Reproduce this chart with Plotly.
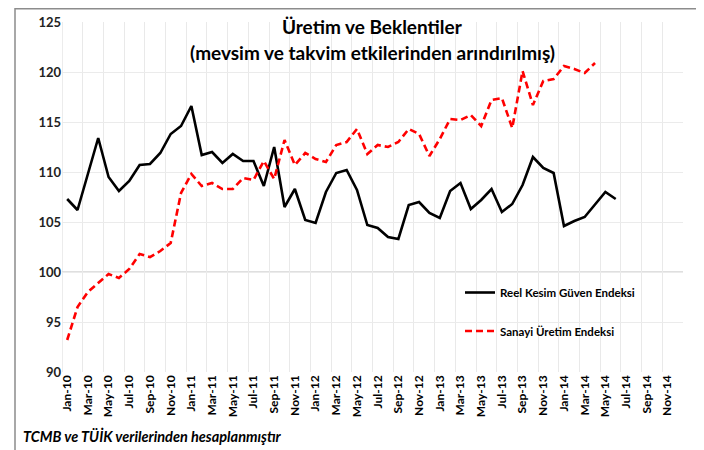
import plotly.graph_objects as go

months = [f"{m}-{y}" for y in ["10", "11", "12", "13", "14"]
          for m in ["Jan", "Feb", "Mar", "Apr", "May", "Jun", "Jul", "Aug", "Sep", "Oct", "Nov", "Dec"]]

reel_kesim = [107.3, 106.2, 109.8, 113.4, 109.5, 108.1, 109.1, 110.7, 110.8, 111.9, 113.8, 114.6,
              116.6, 111.7, 112.0, 110.9, 111.8, 111.1, 111.1, 108.6, 112.5, 106.5, 108.3, 105.2,
              104.9, 108.0, 109.9, 110.2, 108.2, 104.7, 104.4, 103.5, 103.3, 106.7, 107.0, 105.9,
              105.4, 108.1, 108.9, 106.3, 107.2, 108.3, 106.0, 106.8, 108.7, 111.5, 110.4, 109.9,
              104.6, 105.1, 105.5, 106.8, 108.0, 107.3]

sanayi_uretim = [93.2, 96.5, 98.0, 98.9, 99.8, 99.4, 100.3, 101.8, 101.5, 102.1, 102.9, 107.9,
                 109.8, 108.6, 108.9, 108.3, 108.3, 109.4, 109.2, 111.1, 109.3, 113.2, 110.7, 111.9,
                 111.3, 111.0, 112.7, 113.0, 114.3, 111.8, 112.7, 112.5, 113.0, 114.3, 113.8, 111.6,
                 113.3, 115.3, 115.2, 115.7, 114.6, 117.2, 117.4, 114.4, 120.1, 116.7, 119.1, 119.3,
                 120.6, 120.3, 119.9, 120.9]

y_ticks = [90, 95, 100, 105, 110, 115, 120, 125]
title_lines = ["Üretim ve Beklentiler", "(mevsim ve takvim etkilerinden arındırılmış)"]
source_note = "TCMB ve TÜİK verilerinden hesaplanmıştır"
series_names = ["Reel Kesim Güven Endeksi", "Sanayi Üretim Endeksi"]

FONT = "Lato"
idx = list(range(len(months)))

# page has an 8px body margin; layout is expressed in figure pixels
OFF = 8
W, H = 704, 450
PL, PR, PT, PB = 62 - OFF, 683 - OFF, 22 - OFF, 372 - OFF  # plot area in figure px
PW, PH = PR - PL, PB - PT


def px(xp):
    return (xp - OFF - PL) / PW


def py(yp):
    return (PB - (yp - OFF)) / PH


fig = go.Figure()
fig.add_trace(go.Scatter(
    x=idx[:len(reel_kesim)], y=reel_kesim, mode="lines", name=series_names[0],
    line=dict(color="#000000", width=2.6), legend="legend"))
fig.add_trace(go.Scatter(
    x=idx[:len(sanayi_uretim)], y=sanayi_uretim, mode="lines", name=series_names[1],
    line=dict(color="#ff0000", width=2.6, dash="7px,4px"), legend="legend2"))

fig.add_hline(y=100, line=dict(color="#bfbfbf", width=1.2), layer="below")
fig.add_vline(x=-0.5, line=dict(color="#d9d9d9", width=1), layer="below")

legend_font = dict(family=FONT, size=11.5, color="#000000", weight="bold")
fig.update_layout(
    width=W, height=H,
    margin=dict(l=PL, r=W - PR, t=PT, b=H - PB),
    paper_bgcolor="white", plot_bgcolor="white",
    font=dict(family=FONT, color="#000000"),
    showlegend=True,
    legend=dict(x=px(460), y=py(292.5), xanchor="left", yanchor="middle",
                bgcolor="rgba(0,0,0,0)", itemwidth=30, font=legend_font),
    legend2=dict(x=px(460), y=py(331), xanchor="left", yanchor="middle",
                 bgcolor="rgba(0,0,0,0)", itemwidth=30, font=legend_font),
    xaxis=dict(
        range=[-0.5, len(months) - 0.5],
        tickmode="array", tickvals=idx[::2], ticktext=months[::2],
        tickangle=-90, ticks="", showgrid=False, zeroline=False, showline=False,
        automargin=False,
        tickfont=dict(family=FONT, size=12, color="#000000", weight="bold"),
        minor=dict(tickmode="array", tickvals=[i - 0.5 for i in range(0, len(months) + 1, 2)],
                   showgrid=True, gridcolor="#e9e9e9", gridwidth=1, ticks=""),
    ),
    yaxis=dict(
        range=[90, 125], tickmode="array", tickvals=y_ticks,
        showgrid=True, gridcolor="#ebebeb", gridwidth=1, zeroline=False,
        showline=False, ticks="", automargin=False,
        tickfont=dict(family=FONT, size=13, color="#222222", weight="bold"),
    ),
)

for line_text, yp in zip(title_lines, [27, 53]):
    fig.add_annotation(text=line_text, xref="paper", yref="paper",
                       x=px(372), y=py(yp), showarrow=False,
                       xanchor="center", yanchor="middle",
                       font=dict(family=FONT, size=19, color="#000000", weight="bold"))

fig.add_annotation(text=f"<i>{source_note}</i>", xref="paper", yref="paper",
                   x=px(21), y=py(436), showarrow=False,
                   xanchor="left", yanchor="middle",
                   font=dict(family=FONT, size=14.5, color="#000000", weight="bold"))

# outer frame
fig.add_shape(type="rect", xref="paper", yref="paper",
              x0=px(15), x1=px(698), y0=py(470), y1=py(8.8),
              line=dict(color="#8c8c8c", width=1.5), fillcolor="rgba(0,0,0,0)", layer="below")

fig.write_html("out.html")
